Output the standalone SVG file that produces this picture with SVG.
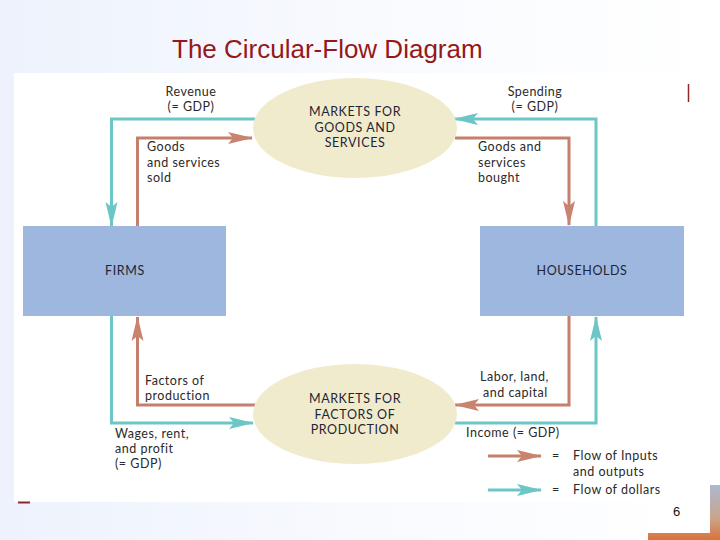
<svg xmlns="http://www.w3.org/2000/svg" width="720" height="540" viewBox="0 0 720 540">
<defs>
<linearGradient id="bg" x1="0" y1="0" x2="1" y2="0">
<stop offset="0" stop-color="#edf2fc"/>
<stop offset="0.5" stop-color="#f8fafe"/>
<stop offset="1" stop-color="#ffffff"/>
</linearGradient>
<linearGradient id="photo" x1="0" y1="0" x2="0" y2="1">
<stop offset="0" stop-color="#aab9d0"/>
<stop offset="0.6" stop-color="#c9a58c"/>
<stop offset="1" stop-color="#d9733a"/>
</linearGradient>
<marker id="ab" markerUnits="userSpaceOnUse" markerWidth="26" markerHeight="14" refX="24" refY="7" orient="auto">
<path d="M0,1 L25,7 L0,13 L5,7 z" fill="#c98470"/>
</marker>
<marker id="at" markerUnits="userSpaceOnUse" markerWidth="26" markerHeight="14" refX="24" refY="7" orient="auto">
<path d="M0,1 L25,7 L0,13 L5,7 z" fill="#6cc6c6"/>
</marker>
<style>
.brown{fill:none;stroke:#c4806c;stroke-width:3;marker-end:url(#ab)}
.teal{fill:none;stroke:#6cc6c6;stroke-width:3;marker-end:url(#at)}
.box{fill:#9db7de}
.ell{fill:#f1ebcd}
.t{font-family:Lato,"Open Sans",sans-serif;font-size:12.5px;letter-spacing:0.5px;fill:#2a2a2a}
.n{font-family:Lato,"Open Sans",sans-serif;font-size:12.5px;letter-spacing:0.6px;fill:#1f2535;text-anchor:middle}
.c{text-anchor:middle}
</style>
</defs>
<rect x="0" y="0" width="720" height="540" fill="url(#bg)"/>
<rect x="14" y="73" width="684" height="429" fill="#ffffff"/>
<text x="172" y="58" font-family="Liberation Sans, Arial, sans-serif" font-size="26" fill="#961818">The Circular-Flow Diagram</text>
<line x1="688.5" y1="84" x2="688.5" y2="102" stroke="#8a2a2a" stroke-width="1.5"/>
<line x1="18" y1="502.5" x2="30" y2="502.5" stroke="#8a2a2a" stroke-width="2"/>
<rect x="648" y="485" width="72" height="55" fill="url(#photo)"/>
<rect x="648" y="483" width="62" height="50" fill="#ffffff"/>
<text x="673" y="516" font-family="Liberation Sans, Arial, sans-serif" font-size="13" fill="#111">6</text>

<g id="connectors">
<path class="teal" d="M255,119 H111.5 V226"/>
<path class="brown" d="M137.5,226 V138 H252"/>
<path class="teal" d="M596,226 V119 H454"/>
<path class="brown" d="M455,138 H569 V225"/>
<path class="brown" d="M256,405 H137.5 V317"/>
<path class="teal" d="M111.5,316 V423 H253"/>
<path class="brown" d="M569,316 V405 H455"/>
<path class="teal" d="M455,423 H596 V317"/>
<path class="brown" d="M488,456 H541"/>
<path class="teal" d="M488,490 H541"/>
</g>

<g id="firms">
<rect class="box" x="23" y="226" width="203" height="90"/>
<text class="n" x="125" y="275">FIRMS</text>
</g>
<g id="households">
<rect class="box" x="480" y="226" width="204" height="90"/>
<text class="n" x="582" y="275">HOUSEHOLDS</text>
</g>
<g id="goods-market">
<ellipse class="ell" cx="355" cy="128" rx="102" ry="50"/>
<text class="n" x="355" y="116">MARKETS FOR</text>
<text class="n" x="355" y="132">GOODS AND</text>
<text class="n" x="355" y="147">SERVICES</text>
</g>
<g id="factor-market">
<ellipse class="ell" cx="355" cy="414" rx="102" ry="50"/>
<text class="n" x="355" y="403">MARKETS FOR</text>
<text class="n" x="355" y="419">FACTORS OF</text>
<text class="n" x="355" y="434">PRODUCTION</text>
</g>

<g id="labels">
<text class="t c" x="191" y="96">Revenue</text>
<text class="t c" x="191" y="111">(= GDP)</text>
<text class="t" x="147" y="151">Goods</text>
<text class="t" x="147" y="167">and services</text>
<text class="t" x="147" y="182">sold</text>
<text class="t c" x="535" y="96">Spending</text>
<text class="t c" x="535" y="111">(= GDP)</text>
<text class="t" x="478" y="151">Goods and</text>
<text class="t" x="478" y="167">services</text>
<text class="t" x="478" y="182">bought</text>
<text class="t" x="145" y="385">Factors of</text>
<text class="t" x="145" y="400">production</text>
<text class="t" x="115" y="438">Wages, rent,</text>
<text class="t" x="115" y="453">and profit</text>
<text class="t" x="115" y="468">(= GDP)</text>
<text class="t" x="480" y="381">Labor, land,</text>
<text class="t" x="483" y="397">and capital</text>
<text class="t" x="466" y="437">Income (= GDP)</text>
<text class="t" x="552" y="460" fill="#aaa">=</text>
<text class="t" x="573" y="460">Flow of Inputs</text>
<text class="t" x="573" y="476">and outputs</text>
<text class="t" x="552" y="494" fill="#aaa">=</text>
<text class="t" x="573" y="494">Flow of dollars</text>
</g>
</svg>
